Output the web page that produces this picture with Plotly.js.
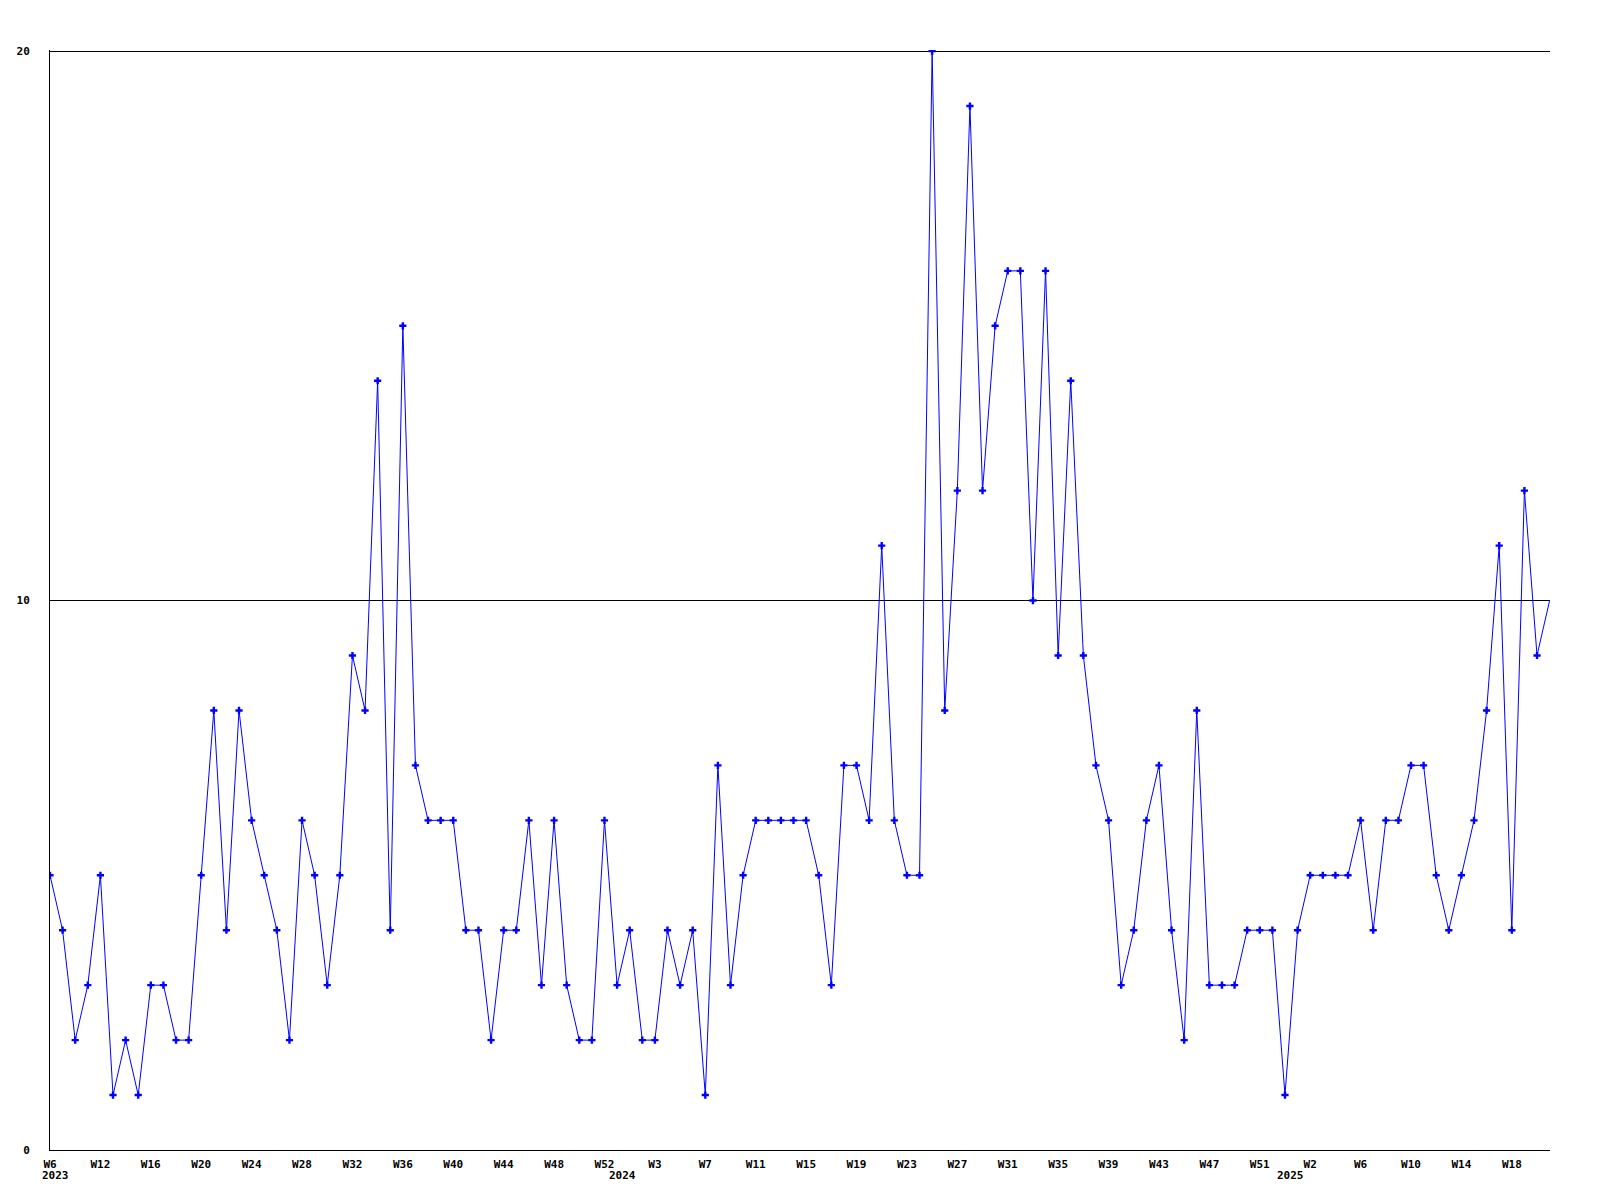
<!DOCTYPE html>
<html>
<head>
<meta charset="utf-8">
<script src="https://cdn.plot.ly/plotly-3.0.1.min.js"></script>
<style>
  html, body { margin: 0; padding: 0; background: #ffffff; }
  #chart { width: 1600px; height: 1200px; }
</style>
</head>
<body>
<div id="chart"></div>
<script>
// Weekly counts, 2023 W6 .. 2025 (last value is the current partial week)
const counts = [
  5, 4, 2, 3, 5, 1, 2, 1, 3, 3, 2, 2, 5, 8, 4, 8, 6, 5, 4, 2,
  6, 5, 3, 5, 9, 8, 14, 4, 15, 7, 6, 6, 6, 4, 4, 2, 4, 4, 6, 3,
  6, 3, 2, 2, 6, 3, 4, 2, 2, 4, 3, 4, 1, 7, 3, 5, 6, 6, 6, 6,
  6, 5, 3, 7, 7, 6, 11, 6, 5, 5, 20, 8, 12, 19, 12, 15, 16, 16, 10, 16,
  9, 14, 9, 7, 6, 3, 4, 6, 7, 4, 2, 8, 3, 3, 3, 4, 4, 4, 1, 4,
  5, 5, 5, 5, 6, 4, 6, 6, 7, 7, 5, 4, 5, 6, 8, 11, 4, 12, 9, 10
];

// x-axis week labels (one every 4 data points)
const weekLabels = [
  'W6', 'W12', 'W16', 'W20', 'W24', 'W28', 'W32', 'W36', 'W40', 'W44', 'W48', 'W52',
  'W3', 'W7', 'W11', 'W15', 'W19', 'W23', 'W27', 'W31', 'W35', 'W39', 'W43', 'W47', 'W51',
  'W2', 'W6', 'W10', 'W14', 'W18'
];
const labelEvery = 4;

// year labels and the data point where each year begins
const yearLabels = ['2023', '2024', '2025'];
const yearStartIndex = [0, 45, 98];

// y-axis ticks
const yTicks = [0, 10, 20];

const xs = counts.map((_, i) => i);
const lastFull = counts.length - 1; // last point is a partial week, drawn without a marker

const font = { family: 'DejaVu Sans Mono, monospace', size: 11, color: '#000000', weight: 'bold' };

const traces = [
  {
    x: xs,
    y: counts,
    type: 'scatter',
    mode: 'lines',
    line: { color: '#0000ff', width: 1 },
    hoverinfo: 'skip',
    showlegend: false
  },
  {
    x: xs.slice(0, lastFull),
    y: counts.slice(0, lastFull),
    type: 'scatter',
    mode: 'markers',
    marker: { color: '#0000ff', symbol: 'cross', size: 6, line: { width: 0 } },
    showlegend: false
  }
];

const annotations = yearLabels.map((t, k) => ({
  text: t,
  xref: 'x', yref: 'paper',
  x: yearStartIndex[k], y: -0.0236,
  xanchor: 'left', yanchor: 'middle',
  xshift: -10,
  showarrow: false,
  font: font
}));

const layout = {
  width: 1600,
  height: 1200,
  margin: { l: 50, r: 50, t: 50, b: 50, pad: 0 },
  paper_bgcolor: '#ffffff',
  plot_bgcolor: '#ffffff',
  showlegend: false,
  font: font,
  xaxis: {
    range: [0, counts.length - 1 + 0.03],
    tickmode: 'array',
    tickvals: weekLabels.map((_, k) => k * labelEvery),
    ticktext: weekLabels,
    ticks: '',
    showgrid: false,
    zeroline: false,
    showline: true,
    linecolor: '#000000',
    linewidth: 1,
    tickfont: font,
    ticklabelstandoff: 4
  },
  yaxis: {
    range: [0, 20.02],
    tickmode: 'array',
    tickvals: yTicks,
    ticktext: yTicks.map(String),
    ticks: '',
    showgrid: true,
    gridcolor: '#000000',
    gridwidth: 1,
    zeroline: false,
    showline: true,
    linecolor: '#000000',
    linewidth: 1,
    tickfont: font,
    ticklabelstandoff: 17
  },
  annotations: annotations
};

Plotly.newPlot('chart', traces, layout, { staticPlot: true, displayModeBar: false });
</script>
</body>
</html>
